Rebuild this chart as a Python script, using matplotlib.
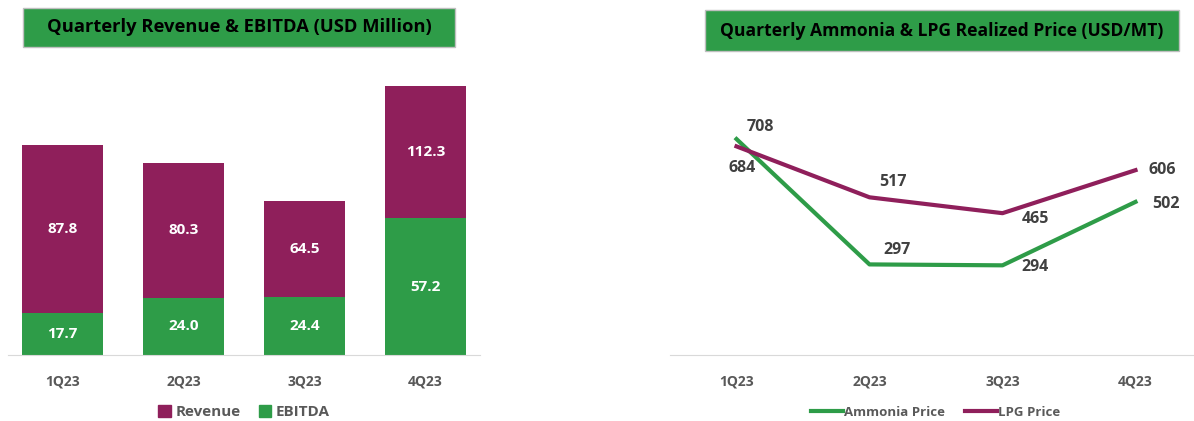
import numpy as np
import matplotlib.pyplot as plt
from matplotlib.patches import Rectangle
from matplotlib.lines import Line2D

plt.rcParams['font.family'] = ['Open Sans', 'DejaVu Sans']

# Data
quarters = ['1Q23', '2Q23', '3Q23', '4Q23']
revenue = [87.8, 80.3, 64.5, 112.3]
ebitda = [17.7, 24.0, 24.4, 57.2]
ammonia = [708, 297, 294, 502]
lpg = [684, 517, 465, 606]

purple = '#8f1f5b'
green = '#2e9c48'
gray_txt = '#595959'
lbl_txt = '#404040'

W, H = 1194, 421
fig = plt.figure(figsize=(W / 100, H / 100), dpi=100)

def px_axes(x0, y0, x1, y1):
    # pixel box (top-left origin) -> figure axes
    return fig.add_axes([x0 / W, 1 - y1 / H, (x1 - x0) / W, (y1 - y0) / H])

def title_box(x0, y0, x1, y1, text, size):
    fig.patches.append(Rectangle((x0 / W, 1 - y1 / H), (x1 - x0) / W, (y1 - y0) / H,
                                 transform=fig.transFigure, facecolor=green,
                                 edgecolor='#bfbfbf', linewidth=1))
    fig.text((x0 + x1) / 2 / W, 1 - (y0 + y1) / 2 / H, text, ha='center', va='center',
             fontsize=size, fontweight='bold', color='black')

# ---- left: revenue & EBITDA ----
ax1 = px_axes(8, 68, 480, 355)
x = np.arange(len(quarters))
ax1.bar(x, revenue, width=0.67, color=purple)
ax1.bar(x, ebitda, width=0.67, color=green)
for i in range(len(quarters)):
    ax1.text(x[i], (revenue[i] + ebitda[i]) / 2, f'{revenue[i]:.1f}', ha='center', va='center',
             color='white', fontsize=11, fontweight='bold')
    ax1.text(x[i], ebitda[i] / 2, f'{ebitda[i]:.1f}', ha='center', va='center',
             color='white', fontsize=11, fontweight='bold')
ax1.set_xlim(-0.45, 3.45)
ax1.set_ylim(0, 120)
ax1.set_xticks(x)
ax1.set_xticklabels(quarters, fontsize=10, fontweight='bold', color=gray_txt)
ax1.tick_params(axis='x', length=0, pad=14)
ax1.set_yticks([])
for s in ['top', 'right', 'left']:
    ax1.spines[s].set_visible(False)
ax1.spines['bottom'].set_color('#d9d9d9')
leg1 = ax1.legend(handles=[Rectangle((0, 0), 1, 1, color=purple), Rectangle((0, 0), 1, 1, color=green)],
                  labels=['Revenue', 'EBITDA'], loc='center', bbox_to_anchor=(0.5, -0.2),
                  ncol=2, frameon=False, handlelength=0.8, handleheight=0.8, handletextpad=0.3,
                  columnspacing=1.2, prop={'size': 11, 'weight': 'bold'})
for t in leg1.get_texts():
    t.set_color(gray_txt)
title_box(23, 8, 455, 47, 'Quarterly Revenue & EBITDA (USD Million)', 13.2)

# ---- right: realized prices ----
ax2 = px_axes(670, 68, 1202, 355)
ax2.plot(x, ammonia, color=green, linewidth=3)
ax2.plot(x, lpg, color=purple, linewidth=3)
ax2.set_xlim(-0.5, 3.5)
ax2.set_ylim(0, 287 / 0.305)
amm_off = [(24, 12), (28, 14), (33, -2), (30, -2)]
lpg_off = [(6, -22), (23, 15), (33, -6), (27, 0)]
for i in range(len(quarters)):
    ax2.annotate(str(ammonia[i]), (x[i], ammonia[i]), xytext=amm_off[i], textcoords='offset pixels',
                 ha='center', va='center', fontsize=11.5, fontweight='bold', color=lbl_txt)
    ax2.annotate(str(lpg[i]), (x[i], lpg[i]), xytext=lpg_off[i], textcoords='offset pixels',
                 ha='center', va='center', fontsize=11.5, fontweight='bold', color=lbl_txt)
ax2.set_xticks(x)
ax2.set_xticklabels(quarters, fontsize=10, fontweight='bold', color=gray_txt)
ax2.tick_params(axis='x', length=0, pad=14)
ax2.set_yticks([])
for s in ['top', 'right', 'left']:
    ax2.spines[s].set_visible(False)
ax2.spines['bottom'].set_color('#d9d9d9')
leg2 = ax2.legend(handles=[Line2D([], [], color=green, linewidth=3), Line2D([], [], color=purple, linewidth=3)],
                  labels=['Ammonia Price', 'LPG Price'], loc='center', bbox_to_anchor=(0.5, -0.2),
                  ncol=2, frameon=False, handlelength=2.4, handletextpad=0.1, columnspacing=1.5,
                  prop={'size': 9.5, 'weight': 'bold'})
for t in leg2.get_texts():
    t.set_color(gray_txt)
title_box(705, 10, 1179, 51, 'Quarterly Ammonia & LPG Realized Price (USD/MT)', 12.6)

fig.savefig('out.png', dpi=100)
